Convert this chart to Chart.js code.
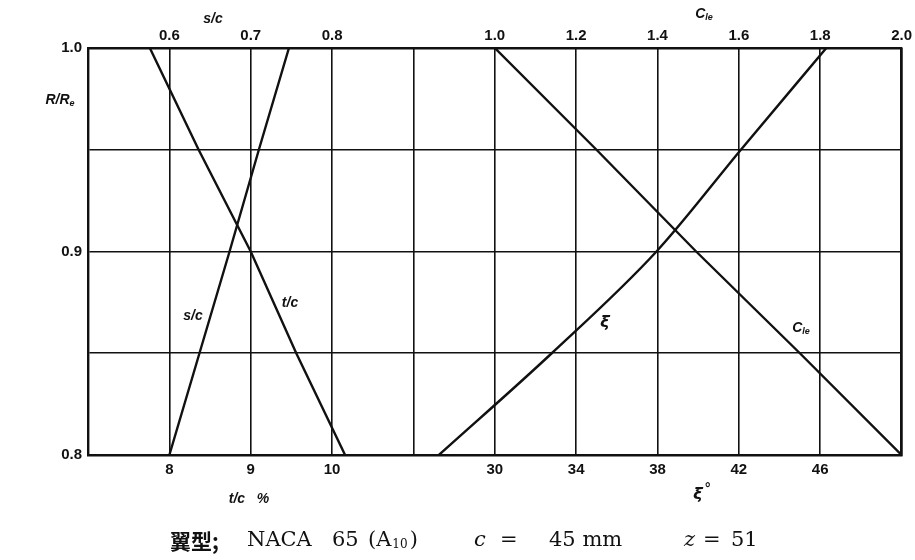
<!DOCTYPE html>
<html>
<head>
<meta charset="utf-8">
<script src="https://cdn.jsdelivr.net/npm/chart.js@4.4.0/dist/chart.umd.min.js"></script>
<style>
  html, body { margin: 0; padding: 0; background: #fff; }
  #wrap { width: 915px; height: 560px; position: relative; }
</style>
</head>
<body>
<div id="wrap"><canvas id="bladeChart" width="915" height="560"></canvas></div>
<script>
// radius ratio R/Re (vertical axis)
const radius = [0.80, 0.85, 0.90, 0.95, 1.00];

// left panel: pitch-chord ratio and thickness ratio
const pitchChord = [0.600, 0.637, 0.674, 0.710, 0.747];
const thickChord = [10.16, 9.56, 9.00, 8.36, 7.76];

// right panel: stagger angle and design lift coefficient
const stagger = [27.25, 32.8, 37.95, 42.1, 46.3];
const liftCoef = [2.00, 1.75, 1.495, 1.25, 1.00];

// tick labels per grid column (0..10), empty where nothing is printed
const topLabels = ["", "0.6", "0.7", "0.8", "", "1.0", "1.2", "1.4", "1.6", "1.8", "2.0"];
const bottomLabels = ["", "8", "9", "10", "", "30", "34", "38", "42", "46", ""];

const ink = "#111";
const tickFont = { family: "'Liberation Sans', Arial, sans-serif", size: 15, weight: "bold" };

function pts(xs) {
  return xs.map((v, i) => ({ x: v, y: radius[i] }));
}

function curve(label, xs, axis, smooth) {
  return {
    label: label,
    data: pts(xs),
    xAxisID: axis,
    yAxisID: "y",
    borderColor: ink,
    borderWidth: 2.4,
    pointRadius: 0,
    cubicInterpolationMode: smooth ? "monotone" : "default",
    tension: 0
  };
}

// hidden axis spanning the whole grid in a panel's own units
function hiddenAxis(min, max) {
  return { type: "linear", display: false, min: min, max: max };
}

// free text: axis names, curve names and the caption
const textPlugin = {
  id: "texts",
  afterDraw(chart) {
    const ctx = chart.ctx;
    ctx.save();
    ctx.fillStyle = ink;
    ctx.textBaseline = "middle";

    const it = "italic bold 14px 'Liberation Sans', Arial, sans-serif";
    const sub = "italic bold 9px 'Liberation Sans', Arial, sans-serif";

    function label(t, x, y, font) {
      ctx.font = font || it;
      ctx.textAlign = "center";
      ctx.fillText(t, x, y);
    }

    function withSub(main, s, x, y) {
      ctx.font = it;
      const w1 = ctx.measureText(main).width;
      ctx.font = sub;
      const w2 = ctx.measureText(s).width;
      const x0 = x - (w1 + w2) / 2;
      ctx.textAlign = "left";
      ctx.font = it;
      ctx.fillText(main, x0, y);
      ctx.font = sub;
      ctx.fillText(s, x0 + w1, y + 4);
    }

    const greek = "italic bold 16px 'DejaVu Sans', sans-serif";

    label("s/c", 213, 19);
    withSub("C", "le", 704, 14);
    withSub("R/R", "e", 60, 100);

    label("s/c", 193, 316);
    label("t/c", 290, 303);
    label("ξ", 605, 323, greek);
    withSub("C", "le", 801, 328);

    label("t/c   %", 249, 499);
    label("ξ", 698, 495, greek);
    label("°", 707, 489);

    // caption line
    const serif = "'DejaVu Serif', serif";
    function cap(t, x, font, dy) {
      ctx.font = font;
      ctx.textAlign = "left";
      ctx.fillText(t, x, 541 + (dy || 0));
      return x + ctx.measureText(t).width;
    }
    cap("翼型;", 170, "bold 21px 'Noto Sans CJK JP', serif");
    cap("NACA", 247, "21px " + serif);
    cap("65", 332, "21px " + serif);
    let x = cap("(A", 368, "21px " + serif);
    x = cap("10", x + 1, "12px " + serif, 4);
    cap(")", x + 2, "21px " + serif);

    cap("c", 474, "italic 21px " + serif);
    cap("=", 500, "21px " + serif);
    cap("45 mm", 549, "21px " + serif);
    cap("z", 684, "italic 21px " + serif);
    cap("=", 703, "21px " + serif);
    cap("51", 731, "21px " + serif);
    ctx.restore();
  }
};

new Chart(document.getElementById("bladeChart"), {
  type: "line",
  data: {
    datasets: [
      curve("s/c", pitchChord, "xSC"),
      curve("t/c", thickChord, "xTC"),
      curve("ξ", stagger, "xXI", true),
      curve("Cle", liftCoef, "xCL")
    ]
  },
  options: {
    responsive: false,
    animation: false,
    layout: { padding: { left: 0, right: 13, top: 0, bottom: 0 } },
    plugins: {
      legend: { display: false },
      tooltip: { enabled: false }
    },
    scales: {
      x: {
        type: "linear",
        position: "bottom",
        min: 0,
        max: 10,
        afterFit(s) { s.height = 105; },
        grid: { color: ink, lineWidth: 1.6, drawTicks: false },
        border: { color: ink, width: 2.4 },
        ticks: {
          stepSize: 1,
          color: ink,
          font: tickFont,
          padding: 6,
          maxRotation: 0,
          callback: (v) => bottomLabels[v] || ""
        }
      },
      x2: {
        type: "linear",
        position: "top",
        min: 0,
        max: 10,
        afterFit(s) { s.height = 48; },
        grid: { display: false, drawTicks: false },
        border: { color: ink, width: 2.4 },
        ticks: {
          stepSize: 1,
          color: ink,
          font: tickFont,
          padding: 3,
          maxRotation: 0,
          callback: (v) => topLabels[v] || ""
        }
      },
      y: {
        type: "linear",
        min: 0.8,
        max: 1.0,
        afterFit(s) { s.width = 88; },
        grid: { color: ink, lineWidth: 1.6, drawTicks: false },
        border: { color: ink, width: 2.4 },
        ticks: {
          stepSize: 0.05,
          color: ink,
          font: tickFont,
          padding: 6,
          callback: (v) => (Math.abs(v * 10 - Math.round(v * 10)) < 1e-6 ? v.toFixed(1) : "")
        }
      },
      y2: {
        type: "linear",
        position: "right",
        min: 0.8,
        max: 1.0,
        afterFit(s) { s.width = 0; },
        grid: { display: false, drawTicks: false },
        border: { color: ink, width: 2.4 },
        ticks: { display: false }
      },
      xSC: hiddenAxis(0.5, 1.5),
      xTC: hiddenAxis(7, 17),
      xXI: hiddenAxis(10, 50),
      xCL: hiddenAxis(0, 2)
    }
  },
  plugins: [textPlugin]
});
</script>
</body>
</html>
